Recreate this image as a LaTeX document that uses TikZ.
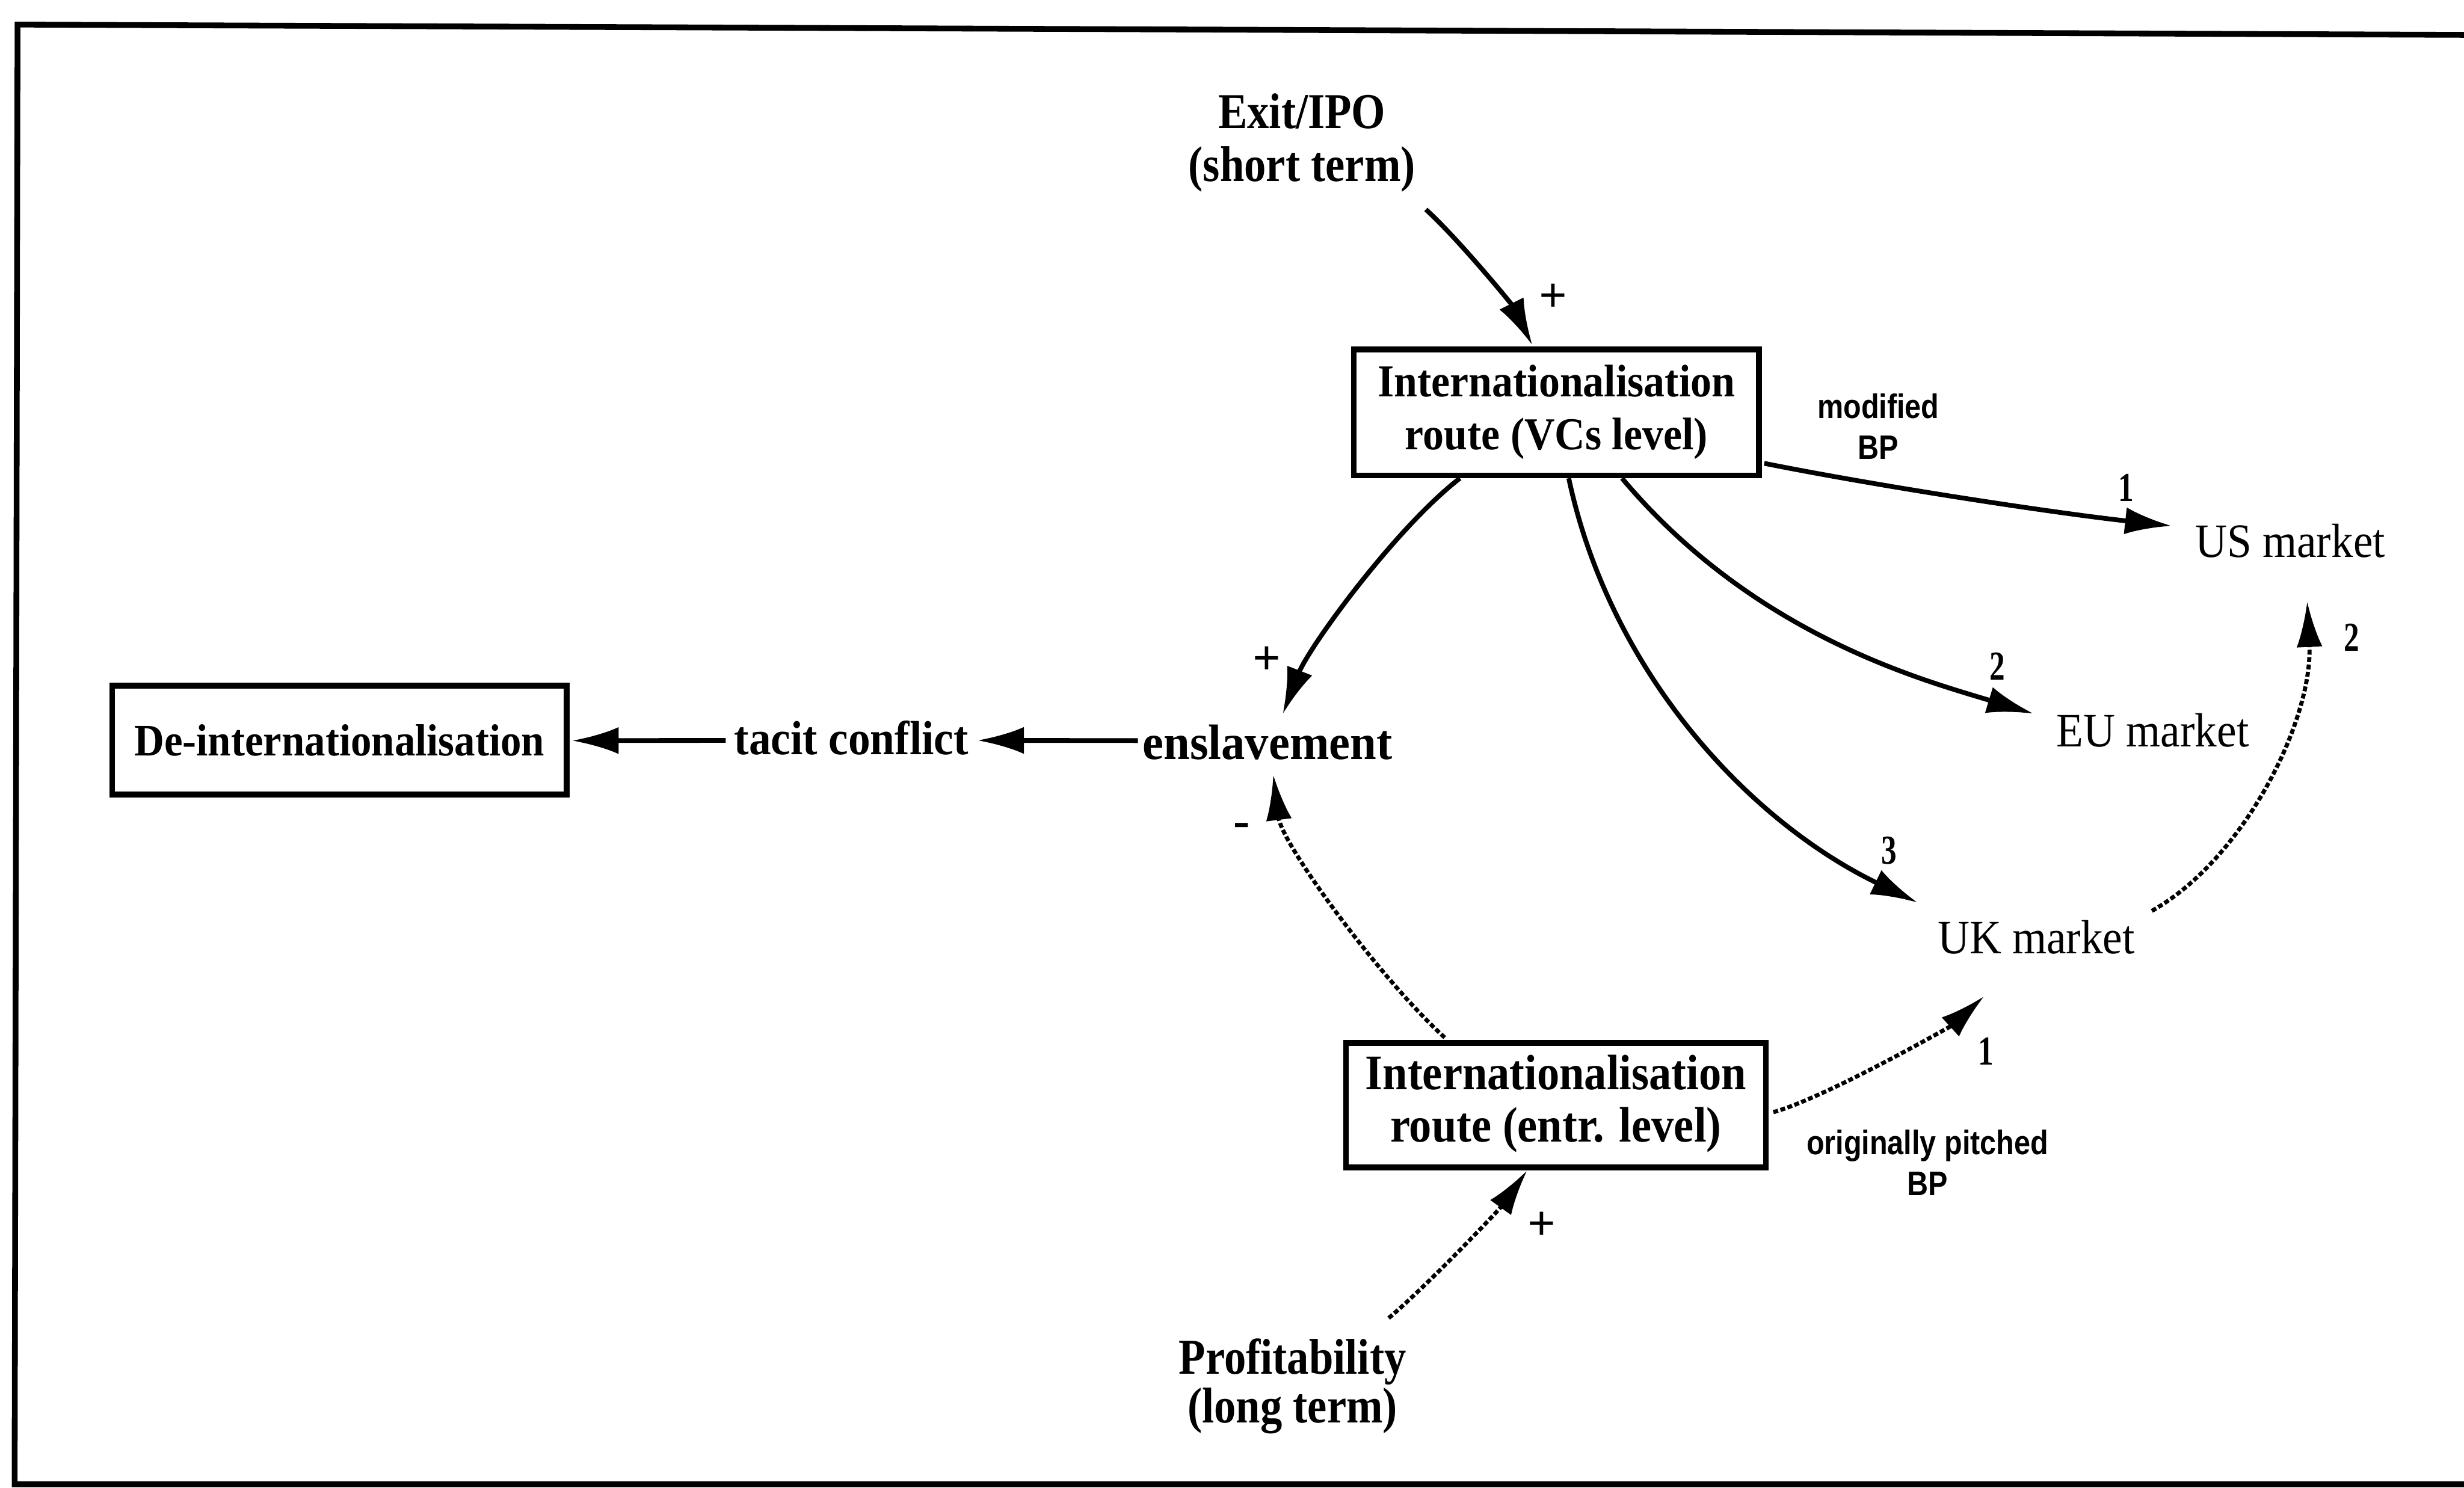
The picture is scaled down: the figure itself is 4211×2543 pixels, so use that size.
\documentclass[tikz,border=0pt]{standalone}
\usepackage{graphicx}
\usepackage{fontspec}
\setmainfont{Liberation Serif}
\newfontfamily\labsans{Liberation Sans}
\usetikzlibrary{arrows.meta,calc}

% horizontally condensed, centred block of lines
\newcommand\squeezed[2]{\scalebox{#1}[1]{\begin{tabular}{@{}c@{}}#2\end{tabular}}}

\begin{document}
\begin{tikzpicture}[x=0.01cm,y=-0.01cm,
  txt/.style={inner sep=0pt, outer sep=0pt},
  boxed/.style={draw, line width=2.8pt, inner sep=0pt},
  frameline/.style={line width=2.8pt},
  link/.style={line width=2.3pt, -{Latex[length=0.8cm,width=0.46cm]}},
  dotlink/.style={line width=2pt, dash pattern=on 2.4pt off 1.2pt, -{Latex[length=0.78cm,width=0.44cm]}},
  sign/.style={inner sep=0pt, font=\fontsize{24pt}{26pt}\selectfont\bfseries},
  digit/.style={inner sep=0pt, font=\fontsize{20pt}{22pt}\selectfont\bfseries},
  bigbold/.style={font=\fontsize{24.4pt}{25.6pt}\selectfont\bfseries},
  market/.style={txt, anchor=base, font=\fontsize{23.3pt}{26pt}\selectfont},
  smallsans/.style={txt, font=\labsans\fontsize{16.5pt}{20pt}\selectfont\bfseries},
]
\useasboundingbox (0,0) rectangle (4211,2543);

% outer frame (open on the right)
\draw[frameline] (4300,60) -- (30,42) -- (25,2537) -- (4300,2537);

% variables
\node[txt, bigbold] (exit) at (2225,247) {\squeezed{0.87}{Exit/IPO\\(short term)}};
\node[boxed, minimum width=6.92cm, minimum height=2.15cm,
      font=\fontsize{22.2pt}{25.6pt}\selectfont\bfseries] (vc) at (2660,705)
      {\squeezed{0.92}{Internationalisation\\route (VCs level)}};
\node[boxed, minimum width=7.17cm, minimum height=2.13cm,
      font=\fontsize{24.2pt}{25.6pt}\selectfont\bfseries] (entr) at (2659,1889)
      {\squeezed{0.9}{Internationalisation\\route (entr. level)}};
\node[boxed, minimum width=7.76cm, minimum height=1.86cm,
      font=\fontsize{21.9pt}{24pt}\selectfont\bfseries] (deint) at (580,1265)
      {\scalebox{0.92}[1]{De-internationalisation}};
\node[txt, anchor=base, font=\fontsize{23.3pt}{26pt}\selectfont\bfseries] (tacit) at (1455,1290)
      {\scalebox{0.92}[1]{tacit conflict}};
\node[txt, anchor=base, font=\fontsize{24.2pt}{26pt}\selectfont\bfseries] (ensl) at (2166,1298)
      {\scalebox{0.95}[1]{enslavement}};
\node[market] (us) at (3914,953) {\scalebox{0.92}[1]{US market}};
\node[market] (eu) at (3679,1276) {\scalebox{0.92}[1]{EU market}};
\node[market] (uk) at (3480,1630) {\scalebox{0.92}[1]{UK market}};
\node[txt, font=\fontsize{24.4pt}{22.8pt}\selectfont\bfseries] (profit) at (2209,2372)
      {\squeezed{0.87}{Profitability\\(long term)}};

% business plan notes
\node[smallsans] (mod) at (3210,736) {\squeezed{0.86}{modified\\BP}};
\node[smallsans] (orig) at (3294,1994) {\squeezed{0.86}{originally pitched\\BP}};

% polarity and order marks
\node[sign] (p1) at (2654,509) {+};
\node[sign] (p2) at (2165,1129) {+};
\node[sign] (m1) at (2122,1419) {-};
\node[sign] (p3) at (2635,2096) {+};
\node[digit] (n1) at (3634,834) {\scalebox{0.75}[1]{1}};
\node[digit] (n2) at (3414,1139) {\scalebox{0.75}[1]{2}};
\node[digit] (n3) at (3228,1454) {\scalebox{0.75}[1]{3}};
\node[digit] (n4) at (4019,1090) {\scalebox{0.75}[1]{2}};
\node[digit] (n5) at (3394,1797) {\scalebox{0.75}[1]{1}};

% solid links
\draw[link] ($(exit.south east)+(18,21)$) .. controls +(55,50) and +(-35,-70) .. ($(vc.north)+(-41,-2)$);
\draw[link] ($(vc.east)+(4,87)$) .. controls +(200,40) and +(-200,-22) .. ($(us.west)+(-40,-26)$);
\draw[link] ($(vc.south)+(112,0)$) .. controls +(225,268) and +(-191,-58) .. ($(eu.west)+(-39,-28)$);
\draw[link] ($(vc.south)+(21,0)$) .. controls +(70,330) and +(-290,-140) .. ($(uk.west)+(-34,-59)$);
\draw[link] ($(vc.south)+(-165,0)$) .. controls +(-110,85) and +(45,-115) .. ($(ensl.north)+(26,-18)$);
\draw[link] ($(ensl.west)+(-8,-3)$) -- ($(tacit.east)+(15,4)$);
\draw[link] ($(tacit.west)+(-15,4)$) -- ($(deint.east)+(4,1)$);

% dotted links
\draw[dotlink] ($(entr.north)+(-190,-4)$) .. controls +(-110,-100) and +(15,120) .. ($(ensl.south)+(10,25)$);
\draw[dotlink] ($(entr.east)+(8,12)$) .. controls +(90,-25) and +(-55,50) .. ($(uk.south)+(-89,72)$);
\draw[dotlink] ($(uk.east)+(29,-45)$) .. controls +(160,-90) and +(10,200) .. ($(us.south)+(29,74)$);
\draw[dotlink] ($(profit.north east)+(-30,-35)$) .. controls +(60,-50) and +(-50,70) .. ($(entr.south)+(-49,0)$);
\end{tikzpicture}
\end{document}
